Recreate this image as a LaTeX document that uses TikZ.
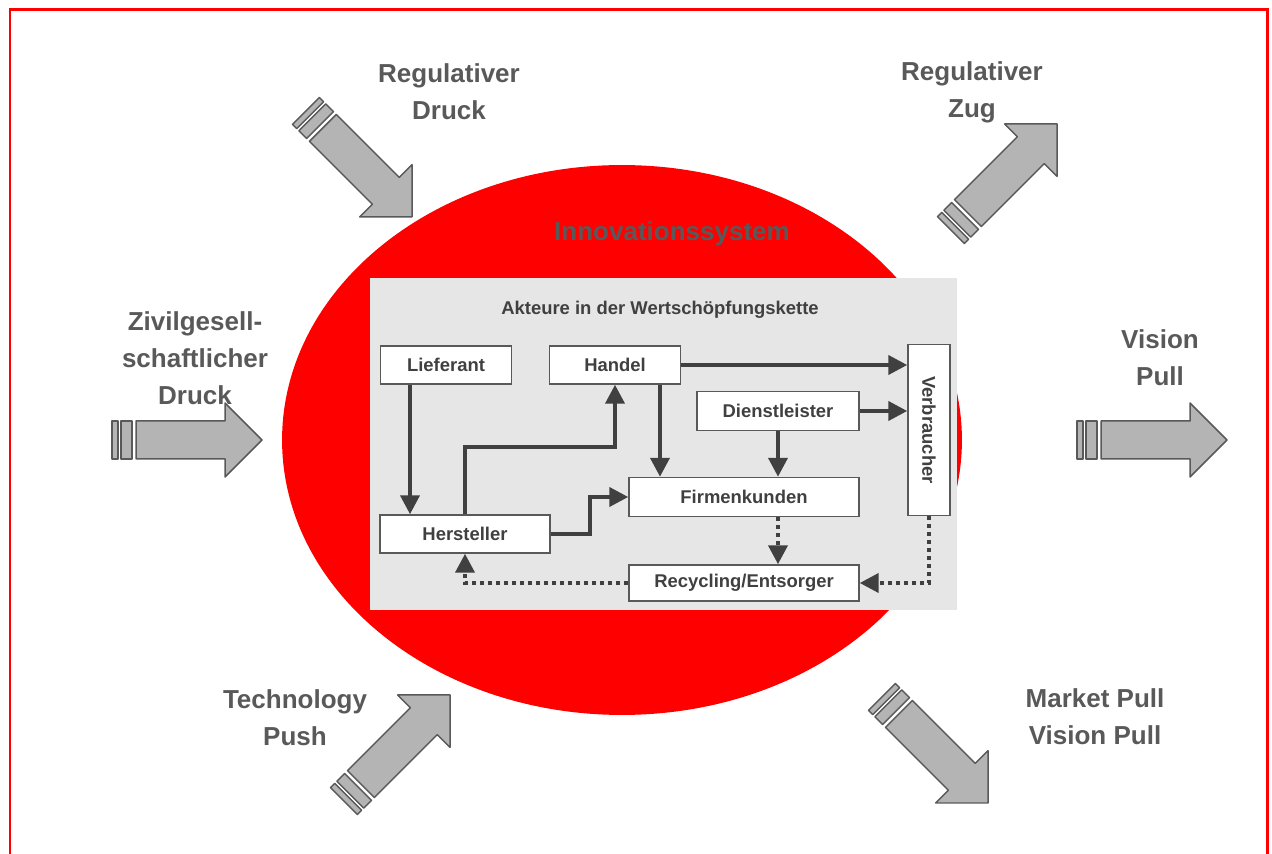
\documentclass[tikz,border=0pt]{standalone}
\usepackage{fontspec}
\setmainfont{Liberation Sans}
\usepackage{graphicx}
\usetikzlibrary{arrows.meta}
\definecolor{pushgray}{HTML}{B4B4B4}
\definecolor{linegray}{HTML}{595959}
\definecolor{flowgray}{HTML}{404040}
\definecolor{boxgray}{HTML}{E6E6E6}
\tikzset{
	akteur/.style={draw=linegray, line width=0.03cm, fill=white, inner sep=0pt, minimum height=0.76cm, text=flowgray, font=\fontsize{10.5}{12}\selectfont\bfseries},
	flow/.style={draw=flowgray, line width=0.08cm, -{Triangle[length=0.38cm,width=0.38cm]}},
	flowdot/.style={flow, dash pattern=on 0.08cm off 0.08cm},
	pushline/.style={draw=linegray, fill=pushgray, line width=0.03cm, line join=round},
	drucklabel/.style={align=center, text=linegray, font=\fontsize{14.8}{21}\selectfont\bfseries},
	pics/pusharrow/.style={code={
		\draw[pushline] (-150,-19) rectangle (-144,19);
		\draw[pushline] (-141,-19) rectangle (-130,19);
		\draw[pushline] (-126,-19) -- (-37,-19) -- (-37,-37) -- (0,0) -- (-37,37) -- (-37,19) -- (-126,19) -- cycle;
	}}
}
\begin{document}
\begin{tikzpicture}[x=0.02cm, y=-0.02cm]
	\useasboundingbox (0,0) rectangle (1272,854);
	\draw[red, line width=0.06cm] (10,854) -- (10,10) -- (1267,10) -- (1267,854);
	\fill[red] (622,440) ellipse [x radius=6.8cm, y radius=5.5cm];
	\fill[boxgray] (370,278) rectangle (957,610);
	\node[text=linegray, font=\fontsize{14.8}{18}\selectfont\bfseries] (innov) at (672,234) {Innovationssystem};
	\node[text=flowgray, font=\fontsize{10.5}{12}\selectfont\bfseries] (kette) at (660,310) {Akteure in der Wertschöpfungskette};

	\node[akteur, minimum width=2.62cm] (lief) at (446,365) {Lieferant};
	\node[akteur, minimum width=2.62cm] (hand) at (615,365) {Handel};
	\node[akteur, minimum width=3.24cm, minimum height=0.78cm] (dien) at (778,411) {Dienstleister};
	\node[akteur, minimum width=4.6cm, minimum height=0.78cm] (firm) at (744,497) {Firmenkunden};
	\node[akteur, minimum width=3.4cm] (hers) at (465,534) {Hersteller};
	\node[akteur, minimum width=4.6cm, minimum height=0.72cm] (recy) at (744,583) {Recycling/Entsorger};
	\node[akteur, minimum width=0.84cm, minimum height=3.42cm] (verb) at (929,430) {\rotatebox{-90}{Verbraucher}};

	\draw[flow] ([xshift=-0.72cm]lief.south) -- ([xshift=-0.72cm]lief.south |- hers.north);
	\draw[flow] (hers.north) -- ++(0,-67) -| (hand.south);
	\draw[flow] ([xshift=0.9cm]hand.south) -- ([xshift=0.9cm]hand.south |- firm.north);
	\draw[flow] (hand.east) -- (hand.east -| verb.west);
	\draw[flow] (dien.east) -- (dien.east -| verb.west);
	\draw[flow] (dien.south) -- (dien.south |- firm.north);
	\draw[flow] (hers.east) -- ++(39,0) |- (firm.west);
	\draw[flowdot] ([xshift=0.68cm]firm.south) -- ([xshift=0.68cm]firm.south |- recy.north);
	\draw[flowdot] (verb.south) |- (recy.east);
	\draw[flowdot] (recy.west) -| (hers.south);

	\pic[rotate=-45] at (412,217) {pusharrow};
	\pic[rotate=45] at (1057,124) {pusharrow};
	\pic at (262,440) {pusharrow};
	\pic at (1227,440) {pusharrow};
	\pic[rotate=45] at (450,695) {pusharrow};
	\pic[rotate=-45] at (988,803) {pusharrow};

	\node[drucklabel] (regdruck) at (449,92) {Regulativer\\Druck};
	\node[drucklabel] (regzug) at (972,92) {Regulativer\\Zug};
	\node[drucklabel] (zivil) at (195,358) {Zivilgesell-\\schaftlicher\\Druck};
	\node[drucklabel] (vision) at (1160,358) {Vision\\Pull};
	\node[drucklabel] (techpush) at (295,718) {Technology\\Push};
	\node[drucklabel] (market) at (1095,717) {Market Pull\\Vision Pull};
\end{tikzpicture}
\end{document}
